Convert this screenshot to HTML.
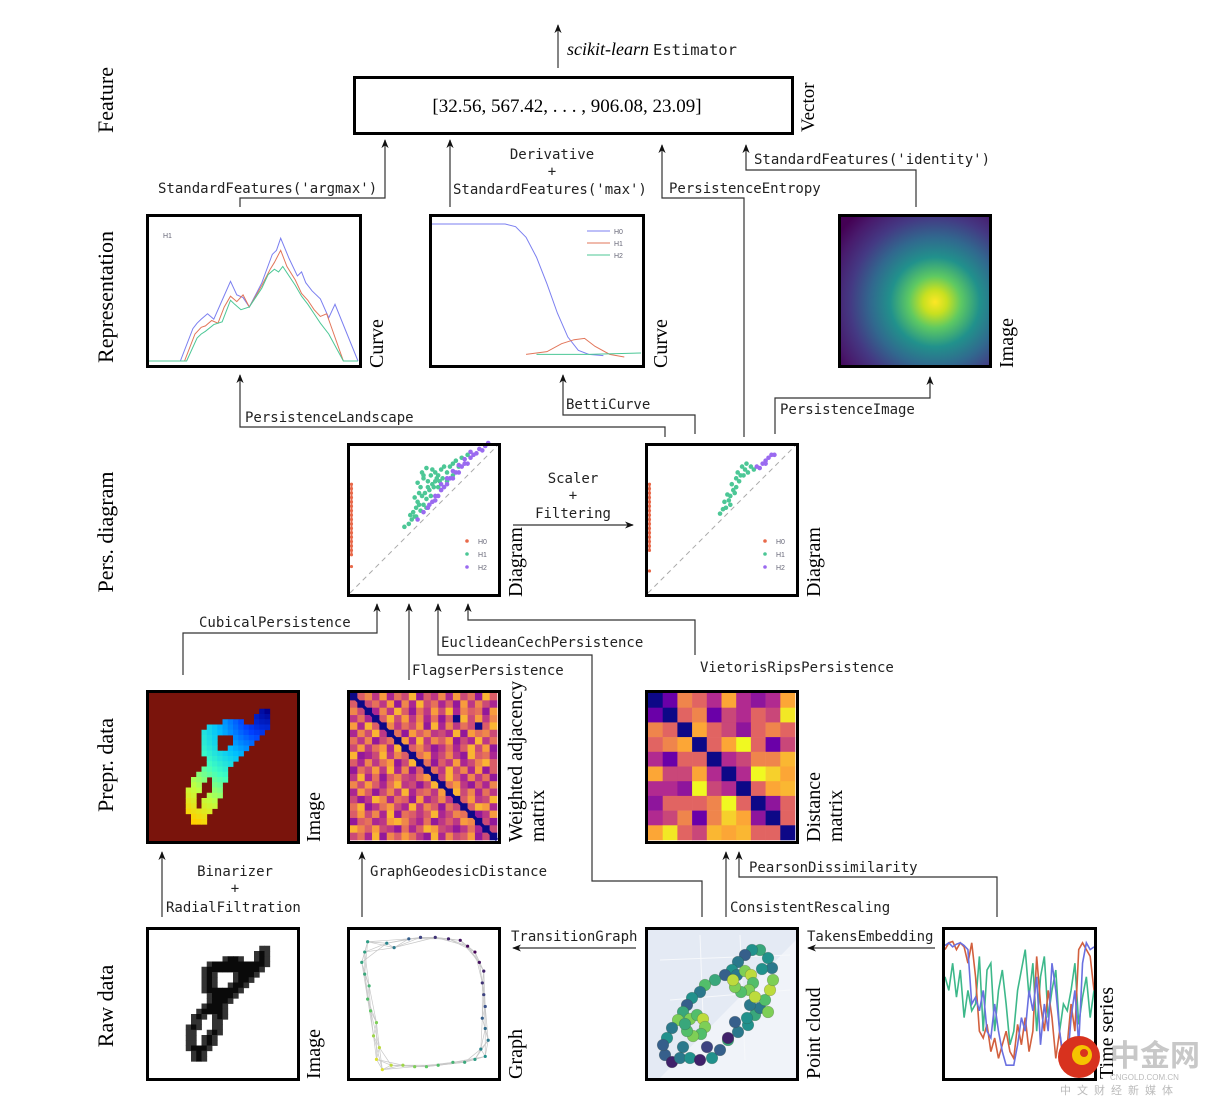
<!DOCTYPE html>
<html><head><meta charset="utf-8"><style>
html,body{margin:0;padding:0;background:#fff;}
svg{display:block;}
.mono{font-family:"DejaVu Sans Mono","Liberation Mono",monospace;font-size:14px;fill:#222;}
.serif{font-family:"Liberation Serif",serif;fill:#000;}
</style></head><body>
<svg id="fig" width="1214" height="1108" viewBox="0 0 1214 1108" xmlns="http://www.w3.org/2000/svg">
<defs>
<marker id="ah" viewBox="0 0 10 10" refX="9" refY="5" markerWidth="9" markerHeight="9" orient="auto-start-reverse" markerUnits="userSpaceOnUse"><path d="M0,1 L10,5 L0,9 L3,5 z" fill="#111"/></marker>
<radialGradient id="pig" gradientUnits="userSpaceOnUse" cx="935" cy="302" r="118">
<stop offset="0" stop-color="#fde725"/><stop offset="0.1" stop-color="#c8e020"/><stop offset="0.22" stop-color="#5ec962"/><stop offset="0.38" stop-color="#21918c"/><stop offset="0.55" stop-color="#31688e"/><stop offset="0.72" stop-color="#443983"/><stop offset="0.88" stop-color="#481a6c"/><stop offset="1" stop-color="#440154"/></radialGradient>
<clipPath id="cpTS"><rect x="945" y="930" width="149" height="147"/></clipPath>
</defs>

<g class="serif" font-size="22">
<text transform="translate(113,100) rotate(-90)" text-anchor="middle">Feature</text>
<text transform="translate(113,297) rotate(-90)" text-anchor="middle">Representation</text>
<text transform="translate(113,532) rotate(-90)" text-anchor="middle">Pers. diagram</text>
<text transform="translate(113,765) rotate(-90)" text-anchor="middle">Prepr. data</text>
<text transform="translate(113,1006) rotate(-90)" text-anchor="middle">Raw data</text>
</g>

<rect x="354.5" y="77.5" width="438" height="56" fill="#fff" stroke="#000" stroke-width="3"/>
<text class="serif" x="567" y="112" font-size="19" text-anchor="middle">[32.56, 567.42, . . . , 906.08, 23.09]</text>
<text class="serif" font-size="19" transform="translate(814,132) rotate(-90)">Vector</text>
<text x="567" y="55"><tspan class="serif" font-style="italic" font-size="18">scikit-learn</tspan><tspan class="mono" dx="4" style="font-size:15.5px">Estimator</tspan></text>

<g class="serif" font-size="20">
<text transform="translate(383,368) rotate(-90)">Curve</text>
<text transform="translate(667,368) rotate(-90)">Curve</text>
<text transform="translate(1013,368) rotate(-90)">Image</text>
<text transform="translate(522,597) rotate(-90)">Diagram</text>
<text transform="translate(820,597) rotate(-90)">Diagram</text>
<text transform="translate(320,842) rotate(-90)">Image</text>
<text transform="translate(522,842) rotate(-90)">Weighted adjacency</text>
<text transform="translate(544,842) rotate(-90)">matrix</text>
<text transform="translate(820,842) rotate(-90)">Distance</text>
<text transform="translate(842,842) rotate(-90)">matrix</text>
<text transform="translate(320,1079) rotate(-90)">Image</text>
<text transform="translate(522,1079) rotate(-90)">Graph</text>
<text transform="translate(820,1079) rotate(-90)">Point cloud</text>
<text transform="translate(1113,1079) rotate(-90)">Time series</text>
</g>

<g class="mono">
<text x="158" y="193">StandardFeatures('argmax')</text>
<text x="552" y="159" text-anchor="middle">Derivative</text>
<text x="552" y="176" text-anchor="middle">+</text>
<text x="453" y="194">StandardFeatures('max')</text>
<text x="669" y="193">PersistenceEntropy</text>
<text x="754" y="164">StandardFeatures('identity')</text>
<text x="245" y="422">PersistenceLandscape</text>
<text x="566" y="409">BettiCurve</text>
<text x="780" y="414">PersistenceImage</text>
<text x="573" y="483" text-anchor="middle">Scaler</text>
<text x="573" y="500" text-anchor="middle">+</text>
<text x="573" y="518" text-anchor="middle">Filtering</text>
<text x="199" y="627">CubicalPersistence</text>
<text x="441" y="647">EuclideanCechPersistence</text>
<text x="412" y="675">FlagserPersistence</text>
<text x="700" y="672">VietorisRipsPersistence</text>
<text x="235" y="876" text-anchor="middle">Binarizer</text>
<text x="235" y="893" text-anchor="middle">+</text>
<text x="166" y="912">RadialFiltration</text>
<text x="370" y="876">GraphGeodesicDistance</text>
<text x="749" y="872">PearsonDissimilarity</text>
<text x="730" y="912">ConsistentRescaling</text>
<text x="511" y="941">TransitionGraph</text>
<text x="807" y="941">TakensEmbedding</text>
</g>

<g id="conn"></g>
<g id="panels"></g>

<g>
<circle cx="1079" cy="1057" r="21" fill="#d8321e"/>
<circle cx="1082" cy="1055" r="10" fill="#f5c400"/>
<circle cx="1084" cy="1053" r="4" fill="#d8321e"/>
<text x="1110" y="1066" font-family="'Noto Sans CJK SC',sans-serif" font-size="30" font-weight="bold" fill="#c8c8c8">中金网</text>
<text x="1110" y="1080" font-family="'Liberation Sans',sans-serif" font-size="8" fill="#bbb">CNGOLD.COM.CN</text>
<text x="1060" y="1094" font-family="'Noto Sans CJK SC',sans-serif" font-size="11" fill="#bbb" letter-spacing="6">中文财经新媒体</text>
</g>
</svg>
<script>
const landscapeH0 = [[0,0],[15,0],[21,.24],[23,.28],[25,.31],[28,.35],[31,.31],[35,.45],[39,.59],[42,.49],[45,.47],[48,.40],[54,.58],[59,.79],[61,.82],[63,.91],[67,.76],[71,.63],[73,.66],[75,.58],[78,.52],[82,.46],[86,.32],[89,.42],[100,0]];
const landscapeH1 = [[0,0],[17,0],[22,.2],[25,.25],[27,.26],[30,.3],[33,.28],[36,.4],[39,.48],[42,.44],[45,.49],[48,.40],[54,.56],[58,.68],[60,.73],[63,.82],[66,.7],[70,.6],[73,.5],[76,.45],[79,.38],[82,.33],[85,.35],[93,0],[100,0]];
const landscapeH2 = [[0,0],[18,0],[23,.17],[25,.2],[27,.22],[31,.27],[35,.29],[39,.45],[41,.42],[44,.38],[48,.40],[54,.54],[57,.64],[60,.68],[62,.66],[64,.70],[70,.56],[73,.48],[76,.42],[79,.35],[82,.28],[86,.2],[93,0],[100,0]];
const bettiH0 = [[0,1],[35,1],[40,.98],[45,.9],[50,.75],[55,.55],[60,.33],[65,.15],[70,.05],[75,.02],[82,.01]];
const bettiH1 = [[45,.02],[55,.04],[62,.1],[68,.13],[73,.14],[78,.08],[85,.02],[92,0]];
const bettiH2 = [[50,.02],[75,.02],[100,.03]];
const diag1H0 = [.26,.29,.32,.35,.38,.41,.44,.47,.50,.53,.56,.59,.62,.65,.68,.71,.74,.18];
const diag1H1 = [[.37,.45],[.40,.47],[.42,.50],[.44,.52],[.43,.55],[.45,.58],[.46,.62],[.44,.65],[.47,.68],[.48,.72],[.46,.75],[.50,.78],[.49,.82],[.52,.85],[.50,.80],[.53,.76],[.55,.80],[.56,.84],[.58,.82],[.54,.70],[.57,.72],[.52,.64],[.55,.66],[.50,.60],[.48,.56],[.52,.58],[.58,.76],[.60,.80],[.62,.84],[.64,.86],[.60,.72],[.63,.78],[.66,.82],[.68,.86],[.70,.88],[.72,.90],[.66,.76],[.70,.80],[.74,.86],[.76,.92],[.80,.94],[.45,.52],[.41,.53],[.47,.60],[.51,.68],[.49,.66],[.53,.72],[.56,.74],[.59,.78],[.61,.76]];
const diag1H2 = [[.46,.50],[.50,.55],[.53,.58],[.56,.62],[.58,.66],[.60,.66],[.62,.70],[.64,.72],[.66,.74],[.68,.78],[.70,.78],[.72,.82],[.74,.82],[.76,.86],[.78,.88],[.80,.88],[.82,.92],[.84,.94],[.86,.95],[.88,.98],[.90,.97],[.92,1.0],[.94,1.02],[.62,.74],[.66,.78],[.70,.83],[.74,.87],[.78,.91],[.82,.96],[.58,.63],[.54,.60]];
const diag2H0 = [.29,.32,.35,.38,.41,.44,.47,.50,.53,.56,.59,.62,.65,.68,.71,.74,.15];
const diag2H1 = [[.49,.54],[.51,.57],[.53,.58],[.52,.62],[.55,.63],[.56,.66],[.54,.67],[.58,.70],[.60,.72],[.57,.74],[.62,.76],[.60,.78],[.63,.80],[.61,.82],[.65,.80],[.66,.84],[.68,.82],[.70,.86],[.67,.88],[.72,.84],[.64,.86],[.59,.68],[.56,.60]];
const diag2H2 = [[.74,.86],[.78,.88],[.80,.90],[.82,.92],[.84,.94],[.86,.94],[.80,.88],[.76,.85]];
const distMatrix = [
[0,1,3.5,3,2,4,2,1.5,2,4],[1,0,3,3.5,1,2.5,2,3,2.5,4.8],[3.5,3,0,4,3,2.5,1.5,3,3.5,3],[3,3.5,4,0,3,4,5,3,1,2.5],[2,1,3,3,0,2,2.5,3.5,3.5,4.2],
[4,2.5,2.5,4,2,0,2,5,4.5,4],[2,2,1.5,5,2.5,2,0,3,4,4.2],[1.5,3,3,3,3.5,5,3,0,1.5,3],[2,2.5,3.5,1,3.5,4.5,4,1.5,0,3],[4,4.8,3,2.5,4.2,4,4.2,3,3,0]];
const adjRows = [
"05738264915372846195","50463817294625183742","74027395163849275618","36205948372615094837","82950736481927364059",
"27493061857342918674","63714608293758142936","48368290574136259481","91249375068247319562","52736814906153824795",
"16483927150639472815","39261574368049527361","74852693414906831527","28514739256380947263","41397265182473058349",
"69136842937516405982","58472916535924760138","15623897426135387041","97584316259843136204","46291758631927458140"];
const digitRows = [[],[],[],[[21,22]],[[20,22]],[[14,17],[20,22]],[[11,22]],[[10,21]],[[10,12],[16,20]],[[10,12],[16,19]],[[10,12],[15,18]],[[10,17]],[[11,16]],[[11,15]],[[10,14]],[[9,14]],[[8,10],[12,14]],[[8,9],[12,13]],[[7,9],[12,13]],[[7,8],[11,13]],[[7,8],[10,12]],[[7,8],[10,12]],[[7,11]],[[8,10]],[[8,10]],[],[],[]];
const graphPts = [[12,8],[25,9],[30,12],[40,6],[48,5],[58,5],[67,6],[75,7],[80,11],[85,15],[88,22],[91,28],[90,36],[91,44],[92,52],[90,60],[92,67],[94,75],[89,81],[92,86],[85,88],[78,90],[70,90],[60,92],[52,93],[44,93],[36,92],[28,92],[22,95],[18,88],[20,80],[16,72],[18,63],[14,55],[12,47],[13,38],[10,30],[8,22],[10,15]];
const graphColorIdx = [.55,.45,.4,.3,.2,.15,.1,.05,.02,0,.05,.1,.15,.2,.25,.3,.35,.4,.45,.5,.55,.6,.65,.7,.75,.8,.85,.9,.95,.95,.9,.85,.8,.75,.7,.65,.6,.58,.56];
const cloudPts = [[20,128],[27,135],[35,131],[45,131],[55,133],[67,131],[75,123],[83,113],[93,105],[103,98],[110,88],[115,81],[120,73],[125,63],[128,53],[127,41],[123,31],[115,23],[107,23],[100,28],[93,35],[87,43],[80,48],[70,53],[60,58],[55,65],[47,71],[42,78],[38,85],[33,93],[27,101],[22,111],[18,118],
[45,92],[52,88],[58,92],[60,100],[56,107],[48,109],[42,104],[40,97],[92,48],[100,44],[106,48],[108,56],[104,63],[96,65],[90,60],[88,53],[123,85],[105,78],[90,95],[83,111],[102,91],[38,120],[62,120],[110,70],[117,42]];
const cloudColor = [.3,.1,.4,.5,.1,.5,.3,.6,.4,.5,.6,.4,.7,.9,.8,.4,.5,.6,.5,.3,.4,.5,.3,.6,.7,.4,.5,.3,.6,.8,.4,.5,.3,.8,.7,.9,.8,.7,.8,.7,.6,.4,.8,.9,.7,.8,.7,.8,.9,.8,.4,.3,.1,.5,.4,.2,.9,.5];
const tsBlue = [.93,.95,.92,.94,.95,.93,.9,.5,.55,.45,.6,.3,.25,.5,.3,.15,.05,.05,.05,.2,.4,.3,.6,.45,.7,.2,.5,.3,.8,.6,.3,.1,.05,.4,.6,.2,.8,.95,.9,.92];
const tsRed = [.9,.95,.96,.9,.95,.92,.8,.95,.7,.3,.25,.35,.15,.25,.1,.2,.3,.15,.1,.35,.2,.4,.15,.3,.85,.5,.3,.6,.4,.1,.3,.05,.2,.5,.3,.9,.95,.9,.85,.6];
const tsGreen = [.7,.6,.8,.55,.75,.4,.6,.45,.5,.85,.3,.75,.8,.3,.6,.75,.5,.2,.3,.6,.75,.9,.55,.8,.3,.7,.85,.4,.6,.75,.3,.5,.45,.6,.8,.35,.55,.7,.4,.6];
const legendLabels = ["H0","H1","H2"];

const NS="http://www.w3.org/2000/svg";
const conn=document.getElementById('conn'), panels=document.getElementById('panels');
function mk(tag,attrs,parent){const e=document.createElementNS(NS,tag);for(const k in attrs)e.setAttribute(k,attrs[k]);(parent||panels).appendChild(e);return e;}
function hex(c){return [parseInt(c.slice(1,3),16),parseInt(c.slice(3,5),16),parseInt(c.slice(5,7),16)];}
function cmap(stops,t){t=Math.max(0,Math.min(1,t));const n=stops.length-1,i=Math.min(n-1,Math.floor(t*n)),f=t*n-i;const a=hex(stops[i]),b=hex(stops[i+1]);return 'rgb('+a.map((v,k)=>Math.round(v+(b[k]-v)*f)).join(',')+')';}
const PLASMA=['#0d0887','#6a00a8','#b12a90','#e16462','#fca636','#f0f921'];
const VIRIDIS=['#440154','#3b528b','#21918c','#5ec962','#fde725'];
const JET=['#00008f','#0040ff','#00c0ff','#40ffc0','#c0ff40','#ffd000'];

function arrow(pts,name){
  const p=mk('polyline',{points:pts.map(q=>q.join(',')).join(' '),fill:'none',stroke:'#333','stroke-width':1.2,'marker-end':'url(#ah)'},conn);
  
  
}
function frame(x,y,w,h,name){
  const r=mk('rect',{x:x+1.5,y:y+1.5,width:w-3,height:h-3,fill:'none',stroke:'#000','stroke-width':3});
  
  
}
function group(name){const g=mk('g',{});
  
  
  return g;}

arrow([[558,68],[558,25]],'arrow-to-estimator');
arrow([[240,207],[240,198],[385,198],[385,140]],'arrow-landscape-to-vector');
arrow([[450,207],[450,140]],'arrow-betti-to-vector');
arrow([[744,437],[744,198],[662,198],[662,145]],'arrow-entropy-to-vector');
arrow([[916,207],[916,170],[746,170],[746,145]],'arrow-image-to-vector');
arrow([[665,437],[665,427],[240,427],[240,375]],'arrow-diagram-to-landscape');
arrow([[695,434],[695,415],[563,415],[563,375]],'arrow-diagram-to-betti');
arrow([[775,434],[775,398],[930,398],[930,377]],'arrow-diagram-to-image');
arrow([[513,525],[633,525]],'arrow-scaler-filtering');
arrow([[183,675],[183,633],[377,633],[377,604]],'arrow-cubical');
arrow([[409,680],[409,604]],'arrow-flagser');
arrow([[702,917],[702,881],[592,881],[592,655],[438,655],[438,604]],'arrow-cech');
arrow([[695,655],[695,620],[468,620],[468,604]],'arrow-vietoris-rips');
arrow([[162,917],[162,852]],'arrow-binarizer');
arrow([[362,917],[362,852]],'arrow-graph-geodesic');
arrow([[997,917],[997,877],[739,877],[739,852]],'arrow-pearson');
arrow([[726,917],[726,852]],'arrow-consistent-rescaling');
arrow([[636,948],[513,948]],'arrow-transition-graph');
arrow([[935,948],[808,948]],'arrow-takens');

(function(){
  const g=group('persistence-landscape-plot');
  const x=v=>149+v*2.09, y=v=>361-v*135;
  [[landscapeH0,'#7b7ff0','landscape-h0'],[landscapeH1,'#e2765a','landscape-h1'],[landscapeH2,'#4cc796','landscape-h2']].forEach(([d,c,n])=>{
    const p=mk('polyline',{points:d.map(q=>x(q[0])+','+y(q[1])).join(' '),fill:'none',stroke:c,'stroke-width':1},g);
    
    
  });
  const t=mk('text',{x:163,y:238,'font-size':7,fill:'#667','font-family':'Liberation Sans,sans-serif'},g);t.textContent='H1';
  
  
  frame(146,214,216,154,'landscape-frame');
})();

(function(){
  const g=group('betti-curve-plot');
  const x=v=>432+v*2.09, y=v=>357-v*133;
  [[bettiH0,'#7b7ff0','betti-h0'],[bettiH1,'#e2765a','betti-h1'],[bettiH2,'#4cc796','betti-h2']].forEach(([d,c,n],i)=>{
    const p=mk('polyline',{points:d.map(q=>x(q[0])+','+y(q[1])).join(' '),fill:'none',stroke:c,'stroke-width':1},g);
    
    
    const l=mk('line',{x1:587,x2:610,y1:231+i*12,y2:231+i*12,stroke:c,'stroke-width':1},g);
    
    
    const t=mk('text',{x:614,y:234+i*12,'font-size':7,fill:'#667','font-family':'Liberation Sans,sans-serif'},g);t.textContent=legendLabels[i];
    
    
  });
  frame(429,214,216,154,'betti-frame');
})();

(function(){
  const r=mk('rect',{x:838,y:214,width:154,height:154,fill:'url(#pig)'});
  
  
  frame(838,214,154,154,'persistence-image-frame');
})();

function diagram(x0,h0,h1,h2,name){
  const g=group(name);
  const X=v=>x0+3+v*147, Y=v=>596-3-v*147;
  const dl=mk('line',{x1:X(0),y1:Y(0),x2:X(1),y2:Y(1),stroke:'#aaa','stroke-width':1,'stroke-dasharray':'5,4'},g);
  
  
  h0.forEach(d=>{const c=mk('circle',{cx:X(0.01),cy:Y(d),r:1.6,fill:'#e8694a'},g);
    
    });
  const hl=mk('line',{x1:X(0.01),x2:X(0.01),y1:Y(Math.max(...h0.slice(0,-1))),y2:Y(Math.min(...h0.slice(0,-1))),stroke:'#e8694a','stroke-width':2},g);
  
  
  h1.forEach(d=>{const c=mk('circle',{cx:X(d[0]),cy:Y(d[1]),r:2.3,fill:'#4cc796'},g);
    
    });
  h2.forEach(d=>{const c=mk('circle',{cx:X(d[0]),cy:Y(d[1]),r:2.3,fill:'#9a6af0'},g);
    
    });
  ['#e8694a','#4cc796','#9a6af0'].forEach((c,i)=>{
    const d=mk('circle',{cx:x0+120,cy:541+i*13,r:1.8,fill:c},g);
    
    
    const t=mk('text',{x:x0+131,y:544+i*13,'font-size':7,fill:'#667','font-family':'Liberation Sans,sans-serif'},g);t.textContent=legendLabels[i];
    
    
  });
  frame(x0,443,154,154,name+'-frame');
}
diagram(347,diag1H0,diag1H1,diag1H2,'persistence-diagram-raw');
diagram(645,diag2H0,diag2H1,diag2H2,'persistence-diagram-filtered');

(function(){
  const g1=group('filtration-image');
  mk('rect',{x:146,y:690,width:154,height:154,fill:'#7a140c'},g1);
  const g2=group('digit-image');
  const s=147/28;
  digitRows.forEach((segs,r)=>segs.forEach(([a,b])=>{for(let c=a;c<=b;c++){
    const dist=Math.hypot(c-22,r-3)/25;
    const p=mk('rect',{x:149+c*s,y:693+r*s,width:s+0.4,height:s+0.4,fill:cmap(JET,dist)},g1);
    
    
    const edge=(c===a||c===b);
    const q=mk('rect',{x:149+c*s,y:930+r*s,width:s+0.4,height:s+0.4,fill:edge?'#333':'#0a0a0a'},g2);
    
    
  }}));
  frame(146,690,154,154,'filtration-image-frame');
  frame(146,927,154,154,'digit-image-frame');
})();

(function(){
  const g=group('weighted-adjacency-matrix');
  const n=adjRows.length, s=147/n;
  adjRows.forEach((row,i)=>row.split('').forEach((ch,j)=>{
    const v=+ch, col=v===0?PLASMA[0]:cmap(PLASMA,0.25+v*0.065);
    const c=mk('rect',{x:350+j*s,y:693+i*s,width:s+0.3,height:s+0.3,fill:col},g);
    
    
  }));
  const d=mk('line',{x1:350,y1:693,x2:497,y2:840,stroke:'#0d0887','stroke-width':3.2},g);
  
  
  frame(347,690,154,154,'adjacency-frame');
})();

(function(){
  const g=group('distance-matrix');
  const n=distMatrix.length, s=147/n;
  distMatrix.forEach((row,i)=>row.forEach((v,j)=>{
    const c=mk('rect',{x:648+j*s,y:693+i*s,width:s+0.3,height:s+0.3,fill:cmap(PLASMA,v/5)},g);
    
    
  }));
  frame(645,690,154,154,'distance-frame');
})();

(function(){
  const g=group('transition-graph');
  const X=v=>350+v*1.47, Y=v=>930+v*1.47, n=graphPts.length;
  for(let i=0;i<n;i++)for(let k=1;k<=3;k++){const a=graphPts[i],b=graphPts[(i+k)%n];
    const e=mk('line',{x1:X(a[0]),y1:Y(a[1]),x2:X(b[0]),y2:Y(b[1]),stroke:'#c8c8c8','stroke-width':0.7},g);
    
    }
  graphPts.forEach((p,i)=>{const c=mk('circle',{cx:X(p[0]),cy:Y(p[1]),r:1.6,fill:cmap(VIRIDIS,graphColorIdx[i])},g);
    
    });
  frame(347,927,154,154,'graph-frame');
})();

(function(){
  const g=group('point-cloud');
  mk('rect',{x:648,y:930,width:148,height:148,fill:'#e4eaf4'},g);
  mk('polygon',{points:'796,940 796,1078 660,1078',fill:'#f0f3f9'},g);
  [[660,960,790,955],[670,1000,790,990],[700,935,705,1070],[740,935,745,1060]].forEach(l=>mk('line',{x1:l[0],y1:l[1],x2:l[2],y2:l[3],stroke:'#f6f8fb','stroke-width':1},g));
  cloudPts.forEach((p,i)=>{const c=mk('circle',{cx:645+p[0],cy:927+p[1],r:5.8,fill:cmap(VIRIDIS,cloudColor[i%cloudColor.length]),stroke:'#3a4a3a','stroke-opacity':.35,'stroke-width':.6},g);
    
    });
  frame(645,927,154,154,'point-cloud-frame');
})();

(function(){
  const g=group('time-series');
  g.setAttribute('clip-path','url(#cpTS)');
  const X=i=>945+i*(149/(tsBlue.length-1)), Y=v=>1072-v*136;
  [[tsGreen,'#3db88a','ts-green'],[tsRed,'#d2603e','ts-red'],[tsBlue,'#6a70e0','ts-blue']].forEach(([d,c,n])=>{
    const p=mk('polyline',{points:d.map((v,i)=>X(i)+','+Y(v)).join(' '),fill:'none',stroke:c,'stroke-width':1.6},g);
    
    
  });
  frame(942,927,155,154,'time-series-frame');
})();
</script>
</body></html>
